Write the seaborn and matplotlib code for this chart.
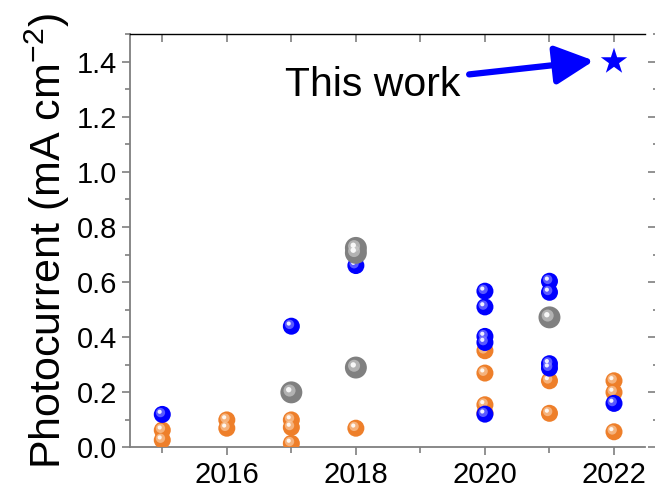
import matplotlib
matplotlib.use("Agg")
import matplotlib.pyplot as plt
import matplotlib.transforms as mtransforms
from matplotlib.ticker import MultipleLocator
import seaborn as sns
import pandas as pd

# ---- data ----
blue_years = [2015, 2017, 2018, 2020, 2020, 2020, 2020, 2020, 2021, 2021, 2021, 2021, 2022]
blue_vals = [0.12, 0.44, 0.66, 0.567, 0.51, 0.403, 0.381, 0.121, 0.603, 0.563, 0.304, 0.288, 0.16]
orange_years = [2015, 2015, 2016, 2016, 2017, 2017, 2017, 2018, 2020, 2020, 2020, 2020,
                2021, 2021, 2022, 2022, 2022]
orange_vals = [0.063, 0.027, 0.10, 0.07, 0.10, 0.073, 0.015, 0.07, 0.351, 0.27, 0.155, 0.125,
               0.242, 0.124, 0.242, 0.20, 0.057]
gray_years = [2017, 2018, 2018, 2018, 2021]
gray_vals = [0.20, 0.724, 0.706, 0.29, 0.472]
this_work_year = [2022]
this_work_val = [1.40]
x_ticks = [2016, 2018, 2020, 2022]
y_ticks = [0.0, 0.2, 0.4, 0.6, 0.8, 1.0, 1.2, 1.4]
annot_text = "This work"
y_label = r"Photocurrent (mA cm$^{\mathrm{-2}}$)"

sns.set_style("white")
plt.rcParams['font.family'] = ['Liberation Sans', 'DejaVu Sans']
plt.rcParams['mathtext.fontset'] = 'custom'
plt.rcParams['mathtext.rm'] = 'Liberation Sans'
plt.rcParams['mathtext.it'] = 'Liberation Sans:italic'
plt.rcParams['mathtext.bf'] = 'Liberation Sans:bold'
plt.rcParams['text.color'] = 'black'
plt.rcParams['axes.labelcolor'] = 'black'
plt.rcParams['xtick.labelcolor'] = 'black'
plt.rcParams['ytick.labelcolor'] = 'black'

fig = plt.figure(figsize=(6.55, 4.91), dpi=100)
ax = fig.add_axes([0.1985, 0.0886, 0.7862, 0.8422])

def balls(years, vals, color, light, size):
    df = pd.DataFrame({"year": years, "val": vals})
    sns.scatterplot(data=df, x="year", y="val", color=color, s=size, edgecolor="none",
                    linewidth=0, ax=ax, zorder=3, legend=False)
    t1 = mtransforms.offset_copy(ax.transData, fig=fig, x=-1.3, y=1.3, units='points')
    sns.scatterplot(data=df, x="year", y="val", color=light, s=size * 0.3, edgecolor="none",
                    linewidth=0, ax=ax, zorder=3, legend=False, transform=t1, alpha=0.7)
    t2 = mtransforms.offset_copy(ax.transData, fig=fig, x=-1.9, y=1.9, units='points')
    sns.scatterplot(data=df, x="year", y="val", color="white", s=size * 0.06, edgecolor="none",
                    linewidth=0, ax=ax, zorder=3, legend=False, transform=t2, alpha=0.9)

balls(orange_years, orange_vals, "#EE7F2A", "#F8C9A0", 150)
balls(blue_years, blue_vals, "#0000FF", "#8080FF", 150)
balls(gray_years, gray_vals, "#808080", "#C8C8C8", 250)

sns.scatterplot(x=this_work_year, y=this_work_val, marker="*", color="#0000FF", s=400,
                edgecolor="none", ax=ax, zorder=4, legend=False)

ax.annotate(annot_text, xy=(2021.69, 1.403), xytext=(2018.26, 1.315),
            fontsize=29.5, ha="center", va="center", color="black",
            arrowprops=dict(arrowstyle="-|>,head_length=0.8,head_width=0.4",
                            color="#0000FF", lw=4.5, shrinkA=4, shrinkB=0))

ax.set_xlim(2014.5, 2022.48)
ax.set_ylim(0, 1.5)
ax.set_xticks(x_ticks)
ax.set_xticklabels([str(v) for v in x_ticks])
ax.xaxis.set_minor_locator(MultipleLocator(1))
ax.set_yticks(y_ticks)
ax.set_yticklabels([f"{v:.1f}" for v in y_ticks])
ax.yaxis.set_minor_locator(MultipleLocator(0.1))

ax.set_xlabel("")
ax.set_ylabel(y_label, fontsize=31, labelpad=3, color="black")

spine_gray = "#7F7F7F"
for side in ["left", "bottom", "right"]:
    ax.spines[side].set_color(spine_gray)
    ax.spines[side].set_linewidth(1.3)
ax.spines["top"].set_color("black")
ax.spines["top"].set_linewidth(1.0)
ax.spines["right"].set_position(("outward", 8))

ax.tick_params(axis="both", which="both", color=spine_gray, width=1.2, labelsize=21,
               labelcolor="black")
ax.tick_params(axis="x", which="major", bottom=True, top=True, direction="out", length=6)
ax.tick_params(axis="x", which="minor", bottom=True, top=True, direction="out", length=4)
ax.tick_params(axis="y", which="major", left=True, right=True, direction="out", length=6)
ax.tick_params(axis="y", which="minor", left=True, right=True, direction="out", length=3.5)
for t in ax.xaxis.get_major_ticks() + ax.xaxis.get_minor_ticks():
    t.tick2line.set_marker(3)  # top ticks pointing down (into axes)
    t.tick2line.set_markersize(6)
for t in ax.yaxis.get_major_ticks():
    t.tick2line.set_marker(0)  # right ticks pointing left
    t.tick2line.set_markersize(6)
for t in ax.yaxis.get_minor_ticks():
    t.tick2line.set_marker(0)
    t.tick2line.set_markersize(2)
ax.tick_params(labelright=False, labeltop=False)

fig.savefig("out.png", dpi=100)
